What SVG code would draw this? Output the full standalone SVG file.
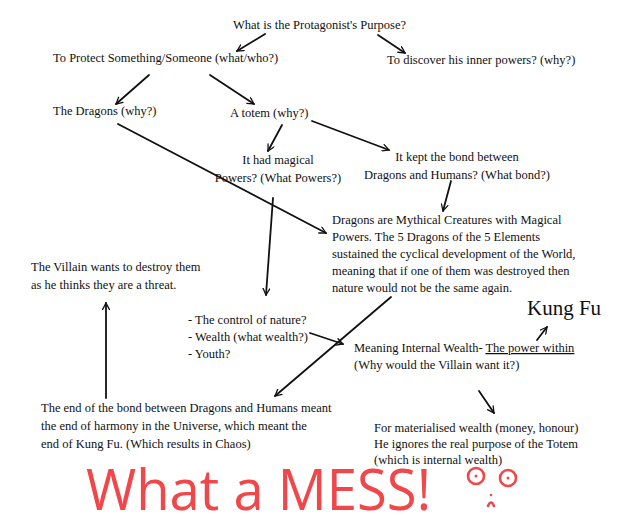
<svg xmlns="http://www.w3.org/2000/svg" width="640" height="516" viewBox="0 0 640 516">
<style>
.t{font-family:"Liberation Serif","Times New Roman",serif;font-size:12.5px;fill:#111}
.k{font-family:"Liberation Serif","Times New Roman",serif;font-size:21px;fill:#111}
.c{stroke:#111;stroke-width:1.8;fill:none;stroke-linecap:round;marker-end:url(#ah)}
.m{font-family:"Open Sans","DejaVu Sans",sans-serif;font-size:56px;fill:#f0474a}
.f{stroke:#f0474a;stroke-width:2.6;fill:none;stroke-linecap:round}
</style>
<defs>
<marker id="ah" viewBox="0 0 10 10" refX="9" refY="5" markerWidth="8" markerHeight="8" markerUnits="userSpaceOnUse" orient="auto">
<path d="M1,0.8 L9,5 L1,9.2" fill="none" stroke="#111" stroke-width="1.6" stroke-linecap="round"/>
</marker>
</defs>
<rect width="640" height="516" fill="#fff"/>
<g id="connectors">
<line class="c" x1="265" y1="34" x2="237" y2="51"/>
<line class="c" x1="378" y1="35" x2="405" y2="53"/>
<line class="c" x1="149" y1="75" x2="116" y2="104"/>
<line class="c" x1="210" y1="75" x2="254" y2="104"/>
<line class="c" x1="282" y1="125" x2="268" y2="151"/>
<line class="c" x1="312" y1="121" x2="389" y2="150"/>
<line class="c" x1="118" y1="124" x2="326" y2="233"/>
<line class="c" x1="451" y1="181" x2="443" y2="211"/>
<line class="c" x1="273" y1="198" x2="266" y2="295"/>
<line class="c" x1="391" y1="297" x2="275" y2="396"/>
<line class="c" x1="310" y1="333" x2="343" y2="344"/>
<line class="c" x1="106" y1="398" x2="106" y2="303"/>
<line class="c" x1="537" y1="340" x2="547" y2="327"/>
<line class="c" x1="479" y1="391" x2="494" y2="413"/>
</g>
<g id="purpose"><text class="t" x="233" y="29">What is the Protagonist's Purpose?</text></g>
<g id="protect"><text class="t" x="53" y="62">To Protect Something/Someone (what/who?)</text></g>
<g id="discover"><text class="t" x="387" y="64">To discover his inner powers? (why?)</text></g>
<g id="dragons"><text class="t" x="53" y="115">The Dragons (why?)</text></g>
<g id="totem"><text class="t" x="230" y="117">A totem (why?)</text></g>
<g id="magical"><text class="t" x="278" y="164" text-anchor="middle">It had magical</text><text class="t" x="278" y="182" text-anchor="middle">Powers? (What Powers?)</text></g>
<g id="bond"><text class="t" x="457" y="161" text-anchor="middle">It kept the bond between</text><text class="t" x="457" y="179" text-anchor="middle">Dragons and Humans? (What bond?)</text></g>
<g id="mythical">
<text class="t" x="332" y="224">Dragons are Mythical Creatures with Magical</text>
<text class="t" x="332" y="241">Powers. The 5 Dragons of the 5 Elements</text>
<text class="t" x="332" y="258">sustained the cyclical development of the World,</text>
<text class="t" x="332" y="275">meaning that if one of them was destroyed then</text>
<text class="t" x="332" y="292">nature would not be the same again.</text>
</g>
<g id="villain"><text class="t" x="31" y="271">The Villain wants to destroy them</text><text class="t" x="31" y="289">as he thinks they are a threat.</text></g>
<g id="powers-list">
<text class="t" x="188" y="324">- The control of nature?</text>
<text class="t" x="188" y="341">- Wealth (what wealth?)</text>
<text class="t" x="188" y="358">- Youth?</text>
</g>
<g id="kungfu"><text class="k" x="527" y="315">Kung Fu</text></g>
<g id="internal">
<text class="t" x="354" y="352">Meaning Internal Wealth- <tspan text-decoration="underline">The power within</tspan></text>
<text class="t" x="354" y="369">(Why would the Villain want it?)</text>
</g>
<g id="end-bond">
<text class="t" x="41" y="412">The end of  the bond between Dragons and Humans meant</text>
<text class="t" x="41" y="430">the end of harmony in the Universe, which meant the</text>
<text class="t" x="41" y="448">end of Kung Fu. (Which results in Chaos)</text>
</g>
<g id="materialised">
<text class="t" x="374" y="432">For materialised wealth (money, honour)</text>
<text class="t" x="374" y="448">He ignores the real purpose of the Totem</text>
<text class="t" x="374" y="464">(which is internal wealth)</text>
</g>
<g id="mess">
<text class="m" x="86" y="510" textLength="345" lengthAdjust="spacingAndGlyphs">What a MESS!</text>
<circle class="f" cx="476" cy="476" r="8"/>
<circle class="f" cx="508" cy="478" r="8"/>
<circle cx="476" cy="476" r="1.5" fill="#f0474a"/>
<circle cx="508" cy="478" r="1.5" fill="#f0474a"/>
<path class="f" d="M488,506 Q491,499 494,506"/>
<circle cx="491" cy="495" r="1.2" fill="#f0474a"/>
</g>
</svg>
